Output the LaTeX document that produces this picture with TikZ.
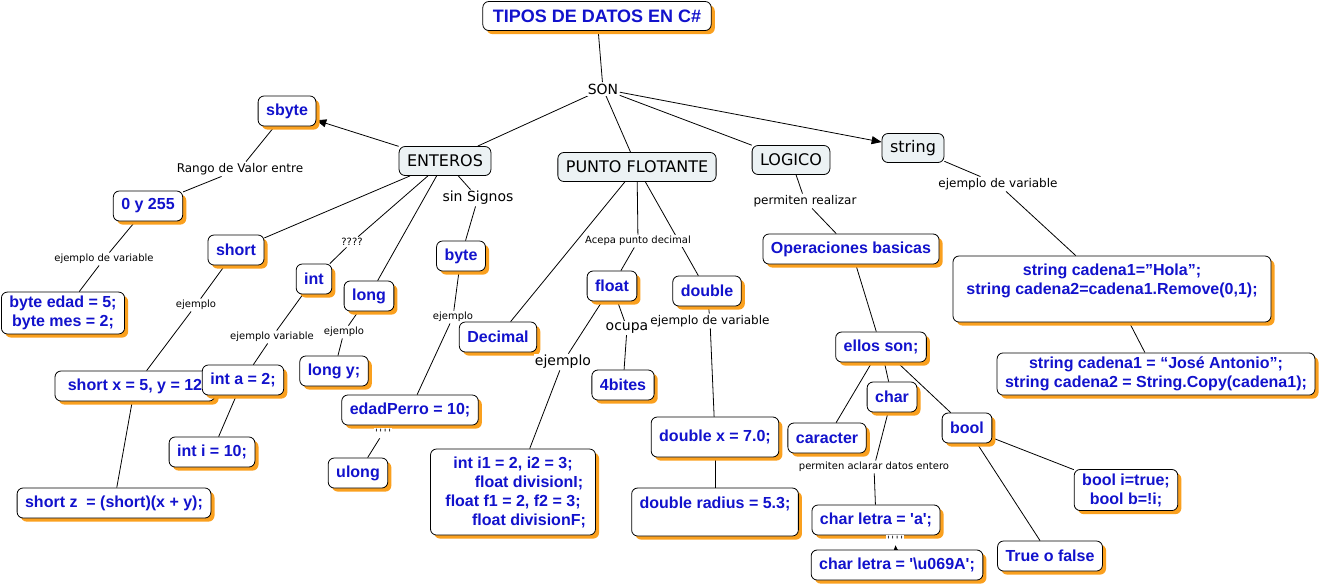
\documentclass[tikz,border=0pt]{standalone}
\usepackage{fontspec}
\setmainfont{Liberation Sans}
\newfontfamily\verd{DejaVu Sans}
\usetikzlibrary{arrows.meta,backgrounds,shadows}
\definecolor{cmblue}{RGB}{18,18,204}
\definecolor{cmorange}{RGB}{250,160,30}
\definecolor{cmgray}{RGB}{236,242,244}

\begin{document}
\begin{tikzpicture}
    [x=0.5pt,y=-0.5pt,
     ej/.style={draw,rounded corners=3pt,fill=white,text=cmblue,align=center,
       font=\bfseries\fontsize{8}{9.5}\selectfont,
       inner xsep=4pt,inner ysep=2pt,minimum height=15pt,
       drop shadow={shadow xshift=1.8pt,shadow yshift=-1.8pt,fill=cmorange,opacity=1}},
     titulo/.style={ej,font=\bfseries\fontsize{9}{11}\selectfont,inner xsep=5pt,minimum height=14.5pt},
     tipo/.style={draw,rounded corners=3pt,fill=cmgray,
       font=\verd\fontsize{8}{9.5}\selectfont,inner xsep=4pt,minimum height=14.5pt},
     link/.style={fill=white,inner sep=0.6pt,font=\verd\fontsize{#1}{#1}\selectfont},
     link/.default=5,
     >={Triangle[length=5pt,width=4pt]}]
    \useasboundingbox (0,0) rectangle (1321,586);

    \node at (597,16) (tipos) [titulo] {TIPOS DE DATOS EN C\#};
    \node at (603,89) (son) [link=7] {SON};
    \node at (445,161) (enteros) [tipo] {ENTEROS};
    \node at (637,167) (flotante) [tipo] {PUNTO FLOTANTE};
    \node at (791,160) (logico) [tipo] {LOGICO};
    \node at (913,148) (string) [tipo] {string};

    % enteros
    \node at (287,111) (sbyte) [ej] {sbyte};
    \node at (240,169) (rango) [link=6] {Rango de Valor entre};
    \node at (148,206) (cero) [ej] {0 y 255};
    \node at (104,259) (ejvar) [link] {ejemplo de variable};
    \node at (63,313) (byteedad) [ej] {byte edad = 5;\\byte mes = 2;};
    \node at (236,250) (short) [ej] {short};
    \node at (196,305) (ejshort) [link] {ejemplo};
    \node at (135,386) (shortx) [ej,minimum width=80pt] {short x = 5, y = 12};
    \node at (114,503) (shortz) [ej] {short z~ = (short)(x + y);};
    \node at (314,279) (int) [ej] {int};
    \node at (352,242) (preg) [link] {????};
    \node at (272,337) (ejint) [link] {ejemplo variable};
    \node at (243,380) (inta) [ej] {int a = 2;};
    \node at (212,452) (inti) [ej] {int i = 10;};
    \node at (369,296) (long) [ej] {long};
    \node at (344,332) (ejlong) [link] {ejemplo};
    \node at (334,371) (longy) [ej] {long y;};
    \node at (478,198) (signos) [link=7] {sin Signos};
    \node at (461,256) (byte) [ej] {byte};
    \node at (453,317) (ejbyte) [link] {ejemplo};
    \node at (410,410) (perro) [ej] {edadPerro = 10;};
    \node at (383,433) (comillas a) [link] {\textquotesingle\,\textquotesingle\,\textquotesingle\,\textquotesingle};
    \node at (358,473) (ulong) [ej] {ulong};

    % punto flotante
    \node at (498,337) (decimal) [ej] {Decimal};
    \node at (638,241) (acepa) [link] {Acepa punto decimal};
    \node at (612,286) (float) [ej] {float};
    \node at (707,291) (double) [ej] {double};
    \node at (563,362) (ejfloat) [link=7] {ejemplo};
    \node at (627,328) (ocupa) [link=7] {ocupa};
    \node at (623,385) (bites) [ej] {4bites};
    \node at (513,492) (divs) [ej,minimum width=82.5pt,minimum height=43pt]
      {int i1 = 2, i2 = 3;\\\hspace*{16pt}float divisionI;\\float f1 = 2, f2 = 3;\\\hspace*{16pt}float divisionF;};
    \node at (710,321) (ejdouble) [link=6] {ejemplo de variable};
    \node at (715,437) (doublex) [ej,minimum width=63pt,minimum height=20pt] {double x = 7.0;};
    \node at (715,512) (radius) [ej,minimum width=83pt,minimum height=24pt] {double radius = 5.3;\\\mbox{}};

    % logico
    \node at (805,201) (realizar) [link=6] {permiten realizar};
    \node at (851,249) (operaciones) [ej] {Operaciones basicas};
    \node at (881,347) (ellos) [ej] {ellos son;};
    \node at (827,438) (caracter) [ej] {caracter};
    \node at (892,397) (char) [ej] {char};
    \node at (967,428) (bool) [ej] {bool};
    \node at (874,467) (aclarar) [link] {permiten aclarar datos entero};
    \node at (876,520) (letra a) [ej] {char letra = \textquotesingle a\textquotesingle;};
    \node at (895,540) (comillas b) [link] {\textquotesingle\,\textquotesingle\,\textquotesingle\,\textquotesingle};
    \node at (897,565) (letra u) [ej] {char letra = \textquotesingle\textbackslash u069A\textquotesingle;};
    \node at (1126,490) (booli) [ej] {bool i=true;\\bool b=!i;};
    \node at (1050,556) (truefalse) [ej] {True o false};

    % string
    \node at (998,184) (ejstring) [link=6] {ejemplo de variable};
    \node at (1112,289) (cadena1) [ej,minimum width=159pt,minimum height=33pt]
      {string cadena1=”Hola”;\\string cadena2=cadena1.Remove(0,1);\\\mbox{}};
    \node at (1156,374) (cadena2) [ej,minimum width=158pt]
      {string cadena1 = “José Antonio”;\\string cadena2 = String.Copy(cadena1);};

    \begin{scope}[on background layer,line width=0.5pt]
      \draw (tipos) -- (son);
      \draw (son) -- (enteros);
      \draw (son) -- (flotante);
      \draw (son) -- (logico);
      \draw[->] (son) -- (string);
      \draw[->] (enteros) -- (sbyte);
      \draw (sbyte) -- (rango) -- (cero);
      \draw (cero) -- (ejvar) -- (byteedad);
      \draw (enteros) -- (short);
      \draw (short) -- (ejshort) -- (shortx);
      \draw (shortx) -- (shortz);
      \draw (enteros) -- (preg) -- (int);
      \draw (int) -- (ejint) -- (inta);
      \draw (inta) -- (inti);
      \draw (enteros) -- (long);
      \draw (long) -- (ejlong) -- (longy);
      \draw (enteros) -- (signos) -- (byte);
      \draw (byte) -- (ejbyte) -- (perro);
      \draw (perro) -- (comillas a) -- (ulong);
      \draw (flotante) -- (decimal);
      \draw (flotante) -- (acepa) -- (float);
      \draw (flotante) -- (double);
      \draw (float) -- (ejfloat) -- (divs);
      \draw (float) -- (ocupa) -- (bites);
      \draw (double) -- (ejdouble) -- (doublex);
      \draw (doublex) -- (radius);
      \draw (logico) -- (realizar) -- (operaciones);
      \draw (operaciones) -- (ellos);
      \draw (ellos) -- (caracter);
      \draw (ellos) -- (char);
      \draw (ellos) -- (bool);
      \draw (char) -- (aclarar) -- (letra a);
      \draw (letra a) -- (comillas b);
      \draw[->,>={Triangle[length=2.5pt,width=2pt]}] (letra u) -- (comillas b);
      \draw (bool) -- (booli);
      \draw (bool) -- (truefalse);
      \draw (string) -- (ejstring) -- (cadena1);
      \draw (cadena1) -- (cadena2);
    \end{scope}
\end{tikzpicture}
\end{document}
